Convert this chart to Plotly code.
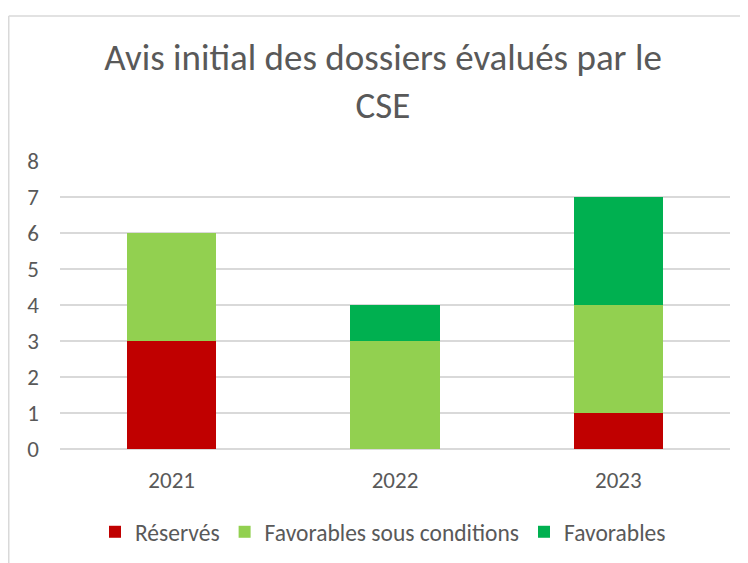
import plotly.graph_objects as go

years = ["2021", "2022", "2023"]
reserves = [3, 0, 1]
fav_cond = [3, 3, 3]
favorables = [0, 1, 3]
series_names = ["Réservés", "Favorables sous conditions", "Favorables"]
colors = ["#C00000", "#92D050", "#00B050"]
title_text = "Avis initial des dossiers évalués par le<br>CSE"

W, H = 748, 563
# page is offset by 8px (body margin); plot area on screen is x 60..730, y 161..449
L, T = 52, 153
PR, PB = 722, 441
R, B = W - PR, H - PB
pw, ph = PR - L, PB - T

fig = go.Figure()
for name, vals, c in zip(series_names, [reserves, fav_cond, favorables], colors):
    fig.add_trace(go.Bar(x=years, y=vals, name=name, marker=dict(color=c, line=dict(width=0))))

font = "Carlito, Calibri, Lato, sans-serif"
grey = "#595959"
fig.update_layout(
    width=W, height=H,
    margin=dict(l=L, r=R, t=T, b=B),
    barmode="stack", bargap=0.6,
    plot_bgcolor="white", paper_bgcolor="white",
    font=dict(family=font, color=grey, size=23),
    title=dict(text=title_text, x=375 / W, xanchor="center", xref="container",
               y=1 - 62 / H, yanchor="top",
               font=dict(size=37, color=grey, family=font)),
    xaxis=dict(showline=False, ticks="", tickfont=dict(size=23, color=grey), ticklabelstandoff=15),
    yaxis=dict(range=[0, 8], dtick=1, showgrid=True, gridcolor="#D9D9D9", gridwidth=1.5,
               zeroline=True, zerolinecolor="#D9D9D9", zerolinewidth=1.5,
               ticks="", tickfont=dict(size=23, color=grey), ticklabelstandoff=20),
    legend=dict(orientation="h", x=(375 - L) / pw, xanchor="center", y=-(524 - PB) / ph, yanchor="middle",
                font=dict(size=23.5, color=grey), traceorder="normal", itemwidth=30),
    showlegend=True,
)
# chart border (left and top visible in the reference crop)
fig.add_shape(type="line", xref="paper", yref="paper",
              x0=(0.75 - L) / pw, x1=(W + 5 - L) / pw, y0=(PB - 8) / ph, y1=(PB - 8) / ph,
              line=dict(color="#D9D9D9", width=1.5))
fig.add_shape(type="line", xref="paper", yref="paper",
              x0=(0.75 - L) / pw, x1=(0.75 - L) / pw, y0=(PB - 8) / ph, y1=-(H - PB + 5) / ph,
              line=dict(color="#D9D9D9", width=1.5))
fig.write_html("out.html")
